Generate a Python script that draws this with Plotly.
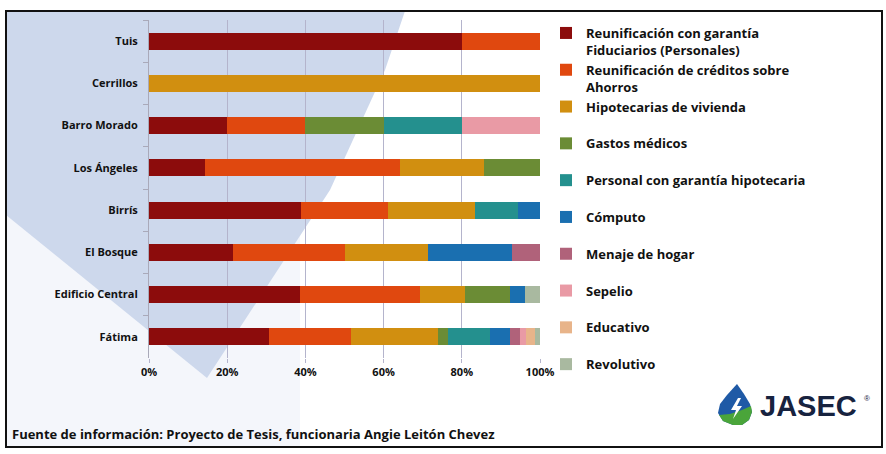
import plotly.graph_objects as go

categories = ["Tuis", "Cerrillos", "Barro Morado", "Los Ángeles", "Birrís",
              "El Bosque", "Edificio Central", "Fátima"]

series_names = [
    "Reunificación con garantía<br>Fiduciarios (Personales)",
    "Reunificación de créditos sobre<br>Ahorros",
    "Hipotecarias de vivienda<br>\u00a0",
    "Gastos médicos<br>\u00a0",
    "Personal con garantía hipotecaria<br>\u00a0",
    "Cómputo<br>\u00a0",
    "Menaje de hogar<br>\u00a0",
    "Sepelio<br>\u00a0",
    "Educativo<br>\u00a0",
    "Revolutivo<br>\u00a0",
]

fiduciarios = [80, 0, 20, 14.3, 38.9, 21.4, 38.5, 30.6]
ahorros = [20, 0, 20, 50, 22.2, 28.6, 30.8, 21.0]
hipotecarias = [0, 100, 0, 21.4, 22.2, 21.4, 11.5, 22.2]
gastos_medicos = [0, 0, 20, 14.3, 0, 0, 11.5, 2.6]
personal_hipotecaria = [0, 0, 20, 0, 11.1, 0, 0, 10.9]
computo = [0, 0, 0, 0, 5.6, 21.4, 3.8, 5.1]
menaje = [0, 0, 0, 0, 0, 7.1, 0, 2.6]
sepelio = [0, 0, 20, 0, 0, 0, 0, 1.5]
educativo = [0, 0, 0, 0, 0, 0, 0, 2.3]
revolutivo = [0, 0, 0, 0, 0, 0, 3.9, 1.2]

series_values = [fiduciarios, ahorros, hipotecarias, gastos_medicos,
                 personal_hipotecaria, computo, menaje, sepelio, educativo, revolutivo]
colors = ["#8c0c0c", "#e0480f", "#d18f10", "#6b8c35", "#24908e",
          "#1a6fb0", "#b0627a", "#e99aa5", "#e8b48a", "#a9b9a0"]

x_ticks = [0, 20, 40, 60, 80, 100]
x_tick_labels = ["0%", "20%", "40%", "60%", "80%", "100%"]

FONT = "'Open Sans', Lato, sans-serif"
W, H = 886, 454
L, R, T, B = 149, 540, 20, 358


def px(x):
    return (x - L) / (R - L)


def py(y):
    return (B - y) / (B - T)


def path(points):
    pts = " L ".join(f"{px(x):.4f},{py(y):.4f}" for x, y in points)
    return "M " + pts + " Z"


fig = go.Figure()
for name, vals, col in zip(series_names, series_values, colors):
    fig.add_trace(go.Bar(
        y=categories, x=vals, name=name, orientation="h",
        marker=dict(color=col, line=dict(width=0)),
        hoverinfo="skip",
    ))

shapes = [
    dict(type="rect", xref="paper", yref="paper", x0=px(6), x1=px(882), y0=py(447), y1=py(11),
         fillcolor="#f4f6fb", line=dict(width=0), layer="below"),
    dict(type="rect", xref="paper", yref="paper", x0=px(300), x1=px(882), y0=py(447), y1=py(11),
         fillcolor="#ffffff", line=dict(width=0), layer="below"),
    dict(type="path", xref="paper", yref="paper",
         path=path([(6, 11), (405, 11), (385, 70), (330, 190), (207, 378), (6, 215)]),
         fillcolor="#cdd8ec", line=dict(width=0), layer="below"),
    dict(type="rect", xref="paper", yref="paper", x0=px(6), x1=px(882), y0=py(447), y1=py(11),
         line=dict(color="#111111", width=2), layer="above"),
    dict(type="path", xref="paper", yref="paper",
         path=path([(737, 384), (744, 394), (750, 404), (752, 412), (749, 420), (742, 425),
                    (733, 425), (723, 421), (718, 413), (720, 404), (727, 395)]),
         fillcolor="#1f5aa6", line=dict(width=0), layer="above"),
    dict(type="path", xref="paper", yref="paper",
         path=path([(751, 406), (752, 412), (749, 420), (742, 425), (733, 425), (723, 421),
                    (719, 415), (730, 414), (742, 410)]),
         fillcolor="#4aa53a", line=dict(width=0), layer="above"),
    dict(type="path", xref="paper", yref="paper",
         path=path([(738, 398), (731, 410), (736, 410), (733, 419), (742, 406), (737, 406), (741, 398)]),
         fillcolor="#ffffff", line=dict(width=0), layer="above"),
]

annotations = [
    dict(text="Fuente de información: Proyecto de Tesis, funcionaria Angie Leitón Chevez",
         xref="paper", yref="paper", x=px(10), y=py(434), xanchor="left", yanchor="middle",
         showarrow=False, font=dict(family=FONT, size=13, color="#111111", weight="bold")),
    dict(text="<b>JASEC</b>", xref="paper", yref="paper", x=px(758), y=py(406),
         xanchor="left", yanchor="middle", showarrow=False,
         font=dict(family="Liberation Sans, Arial, sans-serif", size=29, color="#17233f")),
    dict(text="®", xref="paper", yref="paper", x=px(862), y=py(398),
         xanchor="left", yanchor="middle", showarrow=False,
         font=dict(family="Liberation Sans, Arial, sans-serif", size=8, color="#17233f")),
]

fig.update_layout(
    width=W, height=H,
    margin=dict(l=L, r=W - R, t=T, b=H - B, pad=0, autoexpand=False),
    barmode="stack", bargap=0.6,
    paper_bgcolor="#ffffff", plot_bgcolor="rgba(0,0,0,0)",
    font=dict(family=FONT, size=11, color="#111111"),
    showlegend=True,
    legend=dict(xref="container", yref="container",
                x=546 / W, xanchor="left", y=1 - 18 / H, yanchor="top",
                font=dict(family=FONT, size=13, color="#111111", weight="bold"),
                valign="top", tracegroupgap=0, itemwidth=30, maxheight=440,
                bgcolor="rgba(0,0,0,0)", traceorder="normal"),
    xaxis=dict(range=[0, 100], tickvals=x_ticks, ticktext=x_tick_labels,
               showgrid=True, gridcolor="#b4b4cc", gridwidth=1, zeroline=False,
               showline=False, ticks="outside", ticklen=4, tickcolor="#b4b4cc",
               tickfont=dict(family=FONT, size=11, color="#111111", weight="bold"),
               fixedrange=True),
    yaxis=dict(categoryorder="array", categoryarray=categories, autorange="reversed",
               showgrid=False, showline=True, linecolor="#a9a9b9", linewidth=1,
               ticks="outside", tickson="boundaries", ticklen=5, tickcolor="#a9a9b9",
               ticklabelstandoff=8,
               tickfont=dict(family=FONT, size=11, color="#111111", weight="bold"),
               fixedrange=True),
    shapes=shapes,
    annotations=annotations,
)

fig.write_html("out.html", config={"displayModeBar": False},
               post_script="document.body.style.margin='0';")
